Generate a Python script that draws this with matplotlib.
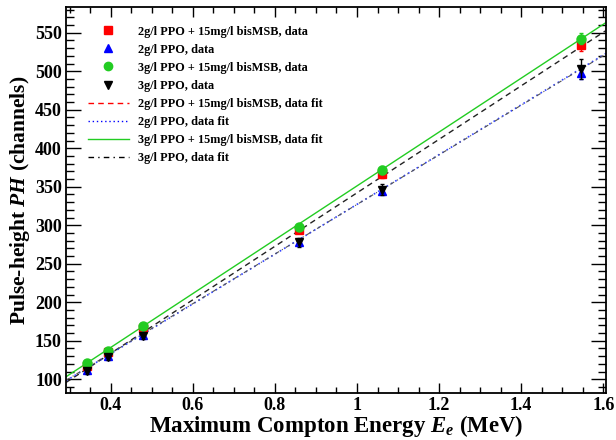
import matplotlib
matplotlib.use("Agg")
import matplotlib.pyplot as plt
import numpy as np
from matplotlib.lines import Line2D
from matplotlib.ticker import MultipleLocator, FormatStrFormatter

plt.rcParams['font.family'] = ['Liberation Serif', 'DejaVu Serif']
plt.rcParams['font.weight'] = 'bold'
plt.rcParams['mathtext.fontset'] = 'custom'
plt.rcParams['mathtext.rm'] = 'Liberation Serif:bold'
plt.rcParams['mathtext.it'] = 'Liberation Serif:bold:italic'
plt.rcParams['mathtext.bf'] = 'Liberation Serif:bold'

# ---- data ----
energy = [0.341, 0.393, 0.478, 0.858, 1.062, 1.547]
ph_2ppo_bis = [117, 135, 166, 294, 366, 534]
ph_2ppo = [112, 130, 157, 278, 345, 498]
ph_3ppo_bis = [121, 137, 169, 298, 372, 542]
ph_3ppo = [111, 128.5, 156, 278, 346, 503]
err_2ppo_bis = [3, 3, 3, 4, 5, 8]
err_2ppo = [3, 3, 3, 4, 5, 8]
err_3ppo_bis = [3, 3, 3, 4, 5, 7]
err_3ppo = [4, 4, 4, 6, 7, 13]

# fit parameters (slope, intercept)
fit_2ppo_bis = (347.3, -5.2)
fit_2ppo = (323.1, 4.0)
fit_3ppo_bis = (349.6, 1.5)
fit_3ppo = (322.0, 5.0)

labels_data = ["2g/l PPO + 15mg/l bisMSB, data", "2g/l PPO, data",
               "3g/l PPO + 15mg/l bisMSB, data", "3g/l PPO, data"]
labels_fit = ["2g/l PPO + 15mg/l bisMSB, data fit", "2g/l PPO, data fit",
              "3g/l PPO + 15mg/l bisMSB, data fit", "3g/l PPO, data fit"]

xlim = (0.291, 1.606)
ylim = (81.8, 583)

fig = plt.figure(figsize=(6.16, 4.40), dpi=100)
ax = fig.add_axes([66/616, 1-393.3/440, (605.7-66)/616, (393.3-7.3)/440])

xs = np.linspace(xlim[0], xlim[1], 200)
def line(p):
    return p[0]*xs + p[1]

ax.plot(xs, line(fit_2ppo_bis), color='#222222', ls=(0, (4, 3)), lw=1.0)
ax.plot(xs, line(fit_2ppo), color='#3344ff', ls=(0, (1, 2)), lw=1.2)
ax.plot(xs, line(fit_3ppo), color='#555555', ls=(0, (4, 3, 1, 3)), lw=0.8)
ax.plot(xs, line(fit_3ppo_bis), color='#22cc22', ls='-', lw=1.0)

ms = 6
ax.errorbar(energy, ph_2ppo_bis, yerr=err_2ppo_bis, fmt='s', color='red', ms=ms, capsize=1.5, elinewidth=1, zorder=3)
ax.errorbar(energy, ph_2ppo, yerr=err_2ppo, fmt='^', color='blue', ms=ms, capsize=1.5, elinewidth=1, zorder=3)
ax.errorbar(energy, ph_3ppo_bis, yerr=err_3ppo_bis, fmt='o', color='#22cc22', ms=ms+0.5, capsize=1.5, elinewidth=1, zorder=4)
ax.errorbar(energy, ph_3ppo, yerr=err_3ppo, fmt='v', color='black', ms=ms, capsize=1.5, elinewidth=1, zorder=5)

ax.set_xlim(*xlim)
ax.set_ylim(*ylim)

ax.xaxis.set_major_locator(MultipleLocator(0.2))
ax.xaxis.set_minor_locator(MultipleLocator(0.05))
ax.yaxis.set_major_locator(MultipleLocator(50))
ax.yaxis.set_minor_locator(MultipleLocator(10))
ax.xaxis.set_major_formatter(FormatStrFormatter('%g'))
ax.tick_params(which='both', direction='in', top=True, right=True, width=1.0)
ax.tick_params(which='major', axis='x', length=7.5, labelsize=13, pad=3)
ax.tick_params(which='minor', axis='x', length=4)
ax.tick_params(which='major', axis='y', length=11, labelsize=13, pad=3)
ax.tick_params(which='minor', axis='y', length=5.5)
for lab in ax.get_xticklabels() + ax.get_yticklabels():
    lab.set_fontweight('bold')
for s in ax.spines.values():
    s.set_linewidth(1.3)

ax.set_xlabel(r'Maximum Compton Energy $E_e$ (MeV)', fontsize=16.5, fontweight='bold', labelpad=-1)
ax.set_ylabel(r'Pulse-height $PH$ (channels)', fontsize=15.5, fontweight='bold', labelpad=2)

handles = [
    Line2D([], [], marker='s', color='red', ls='none', ms=5.5),
    Line2D([], [], marker='^', color='blue', ls='none', ms=5.5),
    Line2D([], [], marker='o', color='#22cc22', ls='none', ms=6),
    Line2D([], [], marker='v', color='black', ls='none', ms=5.5),
    Line2D([], [], color='red', ls=(0, (4, 3)), lw=1),
    Line2D([], [], color='blue', ls=(0, (1, 2)), lw=1),
    Line2D([], [], color='#22cc22', ls='-', lw=1),
    Line2D([], [], color='black', ls=(0, (4, 3, 1, 3)), lw=1),
]
leg = ax.legend(handles, labels_data + labels_fit, loc='upper left',
                bbox_to_anchor=(88.3/616, 1-25.5/440), bbox_transform=fig.transFigure,
                frameon=False, fontsize=8.8, handlelength=3.3, handletextpad=0.75,
                labelspacing=0.5, borderpad=0, borderaxespad=0)
for t in leg.get_texts():
    t.set_fontweight('bold')

fig.savefig('out.png', dpi=100)
